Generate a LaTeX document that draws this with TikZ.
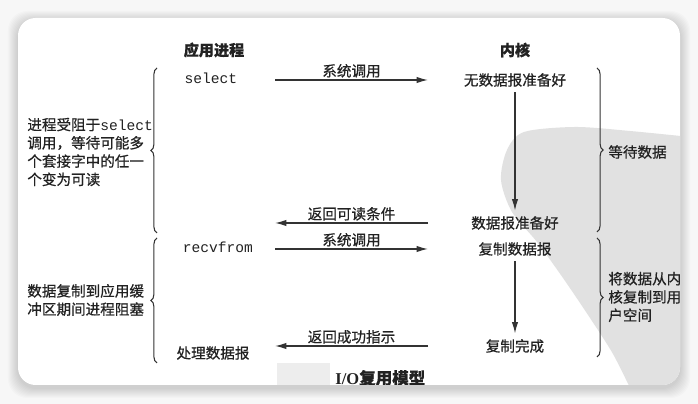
\documentclass[tikz,border=0pt]{standalone}
\usepackage{fontspec}
\setmainfont{Noto Sans CJK SC}[FakeBold=0.6]
\setmonofont{Liberation Mono}
\newfontfamily\capfont{Liberation Serif}
\usepackage{xcolor}
\usepackage{tikz}
\usetikzlibrary{arrows.meta,positioning,decorations.pathreplacing}

\definecolor{ink}{HTML}{222222}
\definecolor{wire}{HTML}{333333}
\definecolor{pagebg}{HTML}{F7F7F7}
\definecolor{seal}{HTML}{E1E1E1}

\begin{document}
\begin{tikzpicture}[
    x=0.02cm, y=-0.02cm,
    every node/.style={text=ink, font=\fontsize{8.3}{10.4}\selectfont},
    head/.style={font=\fontsize{8.6}{10}\selectfont\bfseries},
    appcall/.style={font=\fontsize{8.3}{10}\selectfont\ttfamily},
    kstate/.style={inner sep=3pt},
    note/.style={align=left, inner sep=0pt, anchor=west},
    lbl/.style={inner sep=1pt},
    callarrow/.style={-{Latex[length=6.5pt,width=3.6pt]}, wire, line width=0.7pt},
    flow/.style={-{Latex[length=6.5pt,width=3.6pt]}, wire, line width=0.7pt},
    curly/.style={decorate, decoration={brace, amplitude=3.5pt}, wire, line width=0.6pt}
]
\useasboundingbox (0,0) rectangle (698,404);

% page and card
\fill[pagebg] (0,0) rectangle (698,404);
\foreach \s in {1,...,10}
  \fill[black, opacity=0.014, rounded corners=11pt]
    (18-\s,18-\s+3) rectangle (680+\s,385+\s+3);
\fill[white, rounded corners=10pt] (18,18) rectangle (680,385);

\begin{scope}
\clip[rounded corners=10pt] (18,18) rectangle (680,385);

% seal in the back
\fill[seal] plot[smooth] coordinates {(700,138) (630,131) (575,127) (524,132)
  (507,150) (501,180) (512,212) (537,242) (563,278) (590,318) (613,354) (632,392)}
  -- (700,392) -- cycle;

% column heads
\node[head] (app) at (214,50) {应用进程};
\node[head] (kern) at (515,50) {内核};

% application side
\node[appcall] (select) at (211,78) {select};
\node[appcall] (recvfrom) at (218,247) {recvfrom};
\node (process) at (213,353) {处理数据报};

% kernel side
\node[kstate] (nodata) at (515,80) {无数据报准备好};
\node[kstate] (ready) at (515,223) {数据报准备好};
\node[kstate] (copy) at (515,249) {复制数据报};
\node[kstate] (done) at (515,346) {复制完成};

\coordinate (lcol) at (275,0);
\coordinate (rcol) at (428,0);

\draw[callarrow] (lcol |- nodata) -- (rcol |- nodata)
  node[midway, above, lbl] {系统调用};
\draw[callarrow] (rcol |- ready) -- (lcol |- ready)
  node[midway, above, lbl] {返回可读条件};
\draw[callarrow] (lcol |- copy) -- (rcol |- copy)
  node[midway, above, lbl] {系统调用};
\draw[callarrow] (rcol |- done) -- (lcol |- done)
  node[midway, above, lbl] {返回成功指示};

\draw[flow] (nodata) -- (ready);
\draw[flow] (copy) -- (done);

% braces and notes
\draw[curly] (157,233) -- (157,68);
\draw[curly] (157,363) -- (157,238);
\draw[curly] (597,68) -- (597,232);
\draw[curly] (597,238) -- (597,357);

\node[note] (blocknote) at (27,152)
  {进程受阻于{\ttfamily select}\\调用，等待可能多\\个套接字中的任一\\个变为可读};
\node[note] (copynote) at (27,300) {数据复制到应用缓\\冲区期间进程阻塞};
\node[note] (waitnote) at (608,152) {等待数据};
\node[note] (movenote) at (608,297) {将数据从内\\核复制到用\\户空间};

% caption
\fill[black!7] (277,363) rectangle (330,392);
\node[anchor=west, inner sep=0pt, font=\fontsize{9.4}{11}\selectfont\bfseries]
  (caption) at (335,378) {{\capfont I/O}复用模型};
\end{scope}

\end{tikzpicture}
\end{document}
